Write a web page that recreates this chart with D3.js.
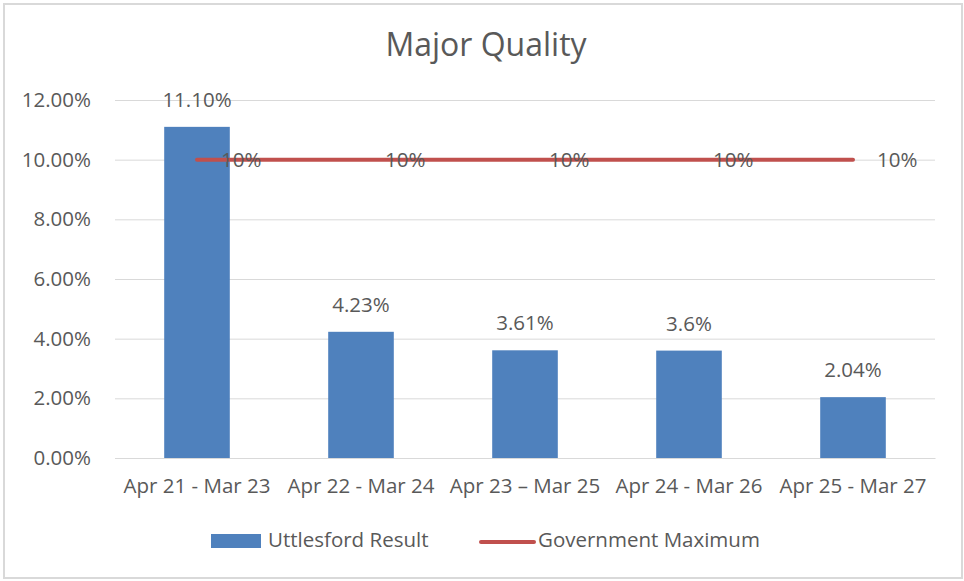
<!DOCTYPE html>
<html>
<head>
<meta charset="utf-8">
<script src="https://cdn.jsdelivr.net/npm/d3@7"></script>
<style>
    body { margin: 0; background: #fff; }
    text { font-family: "Open Sans", sans-serif; fill: #595959; }
</style>
</head>
<body>
<div id="my_chart"></div>
<script>
// data
var categories = ["Apr 21 - Mar 23", "Apr 22 - Mar 24", "Apr 23 \u2013 Mar 25", "Apr 24 - Mar 26", "Apr 25 - Mar 27"];
var resultValues = [11.10, 4.23, 3.61, 3.6, 2.04];
var resultLabels = ["11.10%", "4.23%", "3.61%", "3.6%", "2.04%"];
var maxValues = [10, 10, 10, 10, 10];
var maxLabels = ["10%", "10%", "10%", "10%", "10%"];
var yTicks = [0, 2, 4, 6, 8, 10, 12];

// set the dimensions and margins of the graph
var W = 964, H = 581;
var margin = { top: 100, right: 29, bottom: 123, left: 115 },
    width = W - margin.left - margin.right,
    height = H - margin.top - margin.bottom;
var fs = "20.5px";

var svg = d3.select("#my_chart")
    .append("svg")
    .attr("width", W)
    .attr("height", H);

// chart frame
svg.append("rect")
    .attr("x", 4).attr("y", 4)
    .attr("width", W - 6).attr("height", H - 7)
    .attr("fill", "#fff")
    .attr("stroke", "#d9d9d9")
    .attr("stroke-width", 2);

// title
svg.append("text")
    .attr("x", 486)
    .attr("y", 56)
    .attr("text-anchor", "middle")
    .style("font-size", "32px")
    .text("Major Quality");

var g = svg.append("g")
    .attr("transform", "translate(" + margin.left + "," + margin.top + ")");

// X scale
var x = d3.scaleBand()
    .domain(categories)
    .range([0, width])
    .paddingInner(0.6)
    .paddingOuter(0.3);

// Y scale
var y = d3.scaleLinear()
    .domain([0, 12])
    .range([height, 0]);

// gridlines
g.append("g")
    .call(d3.axisLeft(y).tickValues(yTicks).tickSize(-width).tickFormat(""))
    .call(function (a) { a.select(".domain").remove(); })
    .selectAll("line")
    .attr("stroke", "#d9d9d9");

// Y axis labels
g.append("g")
    .call(d3.axisLeft(y).tickValues(yTicks).tickSize(0).tickPadding(24)
        .tickFormat(function (d) { return d.toFixed(2) + "%"; }))
    .call(function (a) { a.select(".domain").remove(); })
    .selectAll("text")
    .style("font-size", fs);

// X axis
g.append("g")
    .attr("transform", "translate(0," + height + ")")
    .call(d3.axisBottom(x).tickSize(0).tickPadding(20))
    .call(function (a) { a.select(".domain").attr("stroke", "#d9d9d9"); })
    .selectAll("text")
    .style("font-size", fs);

// bars
g.selectAll(".bar")
    .data(resultValues)
    .enter()
    .append("rect")
    .attr("class", "bar")
    .attr("x", function (d, i) { return x(categories[i]); })
    .attr("y", function (d) { return y(d); })
    .attr("width", x.bandwidth())
    .attr("height", function (d) { return height - y(d); })
    .attr("fill", "#4f81bd");

// bar labels
g.selectAll(".barLabel")
    .data(resultValues)
    .enter()
    .append("text")
    .attr("class", "barLabel")
    .attr("x", function (d, i) { return x(categories[i]) + x.bandwidth() / 2; })
    .attr("y", function (d) { return y(d) - 20; })
    .attr("text-anchor", "middle")
    .style("font-size", fs)
    .text(function (d, i) { return resultLabels[i]; });

// government maximum line
var cx = function (d, i) { return x(categories[i]) + x.bandwidth() / 2; };
g.append("path")
    .datum(maxValues)
    .attr("fill", "none")
    .attr("stroke", "#c0504d")
    .attr("stroke-width", 4)
    .attr("stroke-linecap", "round")
    .attr("d", d3.line().x(cx).y(function (d) { return y(d); }));

// line labels
g.selectAll(".lineLabel")
    .data(maxValues)
    .enter()
    .append("text")
    .attr("class", "lineLabel")
    .attr("x", function (d, i) { return cx(d, i) + 24; })
    .attr("y", function (d) { return y(d); })
    .attr("dy", "0.35em")
    .style("font-size", fs)
    .text(function (d, i) { return maxLabels[i]; });

// legend
var legend = svg.append("g");
legend.append("rect")
    .attr("x", 211).attr("y", 534)
    .attr("width", 50).attr("height", 14)
    .attr("fill", "#4f81bd");
legend.append("text")
    .attr("x", 268).attr("y", 547)
    .style("font-size", fs)
    .text("Uttlesford Result");
legend.append("line")
    .attr("x1", 481).attr("x2", 534)
    .attr("y1", 542).attr("y2", 542)
    .attr("stroke", "#c0504d")
    .attr("stroke-width", 4)
    .attr("stroke-linecap", "round");
legend.append("text")
    .attr("x", 538).attr("y", 547)
    .style("font-size", fs)
    .text("Government Maximum");
</script>
</body>
</html>
